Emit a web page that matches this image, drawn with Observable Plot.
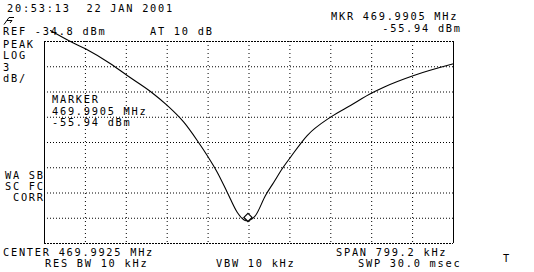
<!DOCTYPE html>
<html>
<head>
<meta charset="utf-8">
<script src="https://cdn.jsdelivr.net/npm/d3@7"></script>
<script src="https://cdn.jsdelivr.net/npm/@observablehq/plot@0.6"></script>
<style>
  html, body { margin: 0; padding: 0; background: #fff; }
  #chart svg { display: block; }
</style>
</head>
<body>
<div id="chart"></div>
<script>
// ---- instrument settings ----
const centerMHz = 469.9925;
const spanMHz = 0.7992;
const refDbm = -34.8;
const dbPerDiv = 3;
const xDivs = 10;
const yDivs = 8;
const markerMHz = 469.9905;
const markerDbm = -55.94;

// ---- trace ----
const freqMHz = [469.6046, 469.6437, 469.6730, 469.7219, 469.7545, 469.8000, 469.8327, 469.8651,
  469.8913, 469.9108, 469.9304, 469.9499, 469.9694, 469.9817, 469.9866, 469.9905, 469.9945,
  470.0052, 470.0247, 470.0410, 470.0574, 470.0736, 470.1062, 470.1517, 470.1908, 470.2332,
  470.2559, 470.3145, 470.3921];
const levelDbm = [-33.49, -34.8, -35.67, -37.45, -38.84, -40.74, -42.40, -44.39,
  -46.56, -48.34, -50.33, -52.70, -55.08, -55.95, -56.10, -56.08, -56.02,
  -55.47, -53.10, -51.52, -49.92, -48.55, -45.97, -43.79, -42.40, -40.90,
  -40.23, -38.84, -37.45];

// ---- annotation texts ----
const labelTexts = [
  "20:53:13  22 JAN 2001",
  "REF -34.8 dBm", "AT 10 dB",
  "MKR 469.9905 MHz", "-55.94 dBm",
  "PEAK", "LOG", "3", "dB/",
  "MARKER", "469.9905 MHz", "-55.94 dBm",
  "WA SB", "SC FC", "CORR",
  "CENTER 469.9925 MHz", "SPAN 799.2 kHz",
  "RES BW 10 kHz", "VBW 10 kHz", "SWP 30.0 msec", "T"
];

const startMHz = centerMHz - spanMHz / 2;
const stopMHz = centerMHz + spanMHz / 2;
const bottomDbm = refDbm - dbPerDiv * yDivs;
const xLines = d3.range(xDivs + 1).map(i => startMHz + i * spanMHz / xDivs);
const yLines = d3.range(yDivs + 1).map(i => refDbm - i * dbPerDiv);
const trace = freqMHz.map((f, i) => ({f, v: levelDbm[i]}));

const W = 534, H = 272;
const chart = Plot.plot({
  width: W,
  height: H,
  marginLeft: 44,
  marginRight: 81,
  marginTop: 41,
  marginBottom: 29,
  x: {domain: [startMHz, stopMHz], axis: null},
  y: {domain: [bottomDbm, refDbm], axis: null},
  style: {background: "#fff", overflow: "visible"},
  marks: [
    Plot.ruleX(xLines.slice(1, -1), {stroke: "#000", strokeWidth: 1, strokeDasharray: "1,3"}),
    Plot.ruleY(yLines.slice(1, -1), {stroke: "#000", strokeWidth: 1, strokeDasharray: "1,2"}),
    Plot.ruleY([yLines[0], yLines[yLines.length - 1]], {stroke: "#000", strokeWidth: 1, strokeDasharray: "2,1"}),
    Plot.ruleX([xLines[0], xLines[xLines.length - 1]], {stroke: "#000", strokeWidth: 1}),
    Plot.line(trace, {x: "f", y: "v", stroke: "#000", strokeWidth: 1.1, curve: "monotone-x", clip: false}),
    Plot.dot([{f: markerMHz, v: markerDbm}], {x: "f", y: "v", symbol: "diamond2", r: 3.7,
      stroke: "#000", strokeWidth: 1.2, fill: "#fff", dy: -2})
  ]
});
document.getElementById("chart").appendChild(chart);

// text placement (pixel layout of the instrument screen)
const layout = [
  [7, 12, "start"],
  [3, 34.5, "start"], [150, 34.5, "start"],
  [331, 20, "start"], [460, 31.5, "end"],
  [3, 47.5, "start"], [3, 59, "start"], [3, 70.5, "start"], [3, 81.5, "start"],
  [52, 103, "start"], [52, 114.5, "start"], [52, 126, "start"],
  [43, 179, "end"], [43, 190, "end"], [43, 201, "end"],
  [3, 255.5, "start"], [336, 255.5, "start"],
  [45, 267, "start"], [216, 267, "start"], [358, 267, "start"], [503, 262, "start"]
];
const svg = d3.select(chart);
const g = svg.append("g")
  .attr("font-family", "'DejaVu Sans Mono', 'Liberation Mono', monospace")
  .attr("font-size", 10.3)
  .attr("fill", "#000");
labelTexts.forEach((t, i) => {
  const [x, y, anchor] = layout[i];
  g.append("text")
    .attr("x", x).attr("y", y)
    .attr("text-anchor", anchor)
    .attr("letter-spacing", "1.75px")
    .attr("dx", anchor === "end" ? 1.75 : 0)
    .style("white-space", "pre")
    .text(t);
});
// small hp logo
svg.append("path")
  .attr("d", "M4,24.5 L9,17.5 M7,20.5 L12,20.5 L10,23 M9,17.5 L14,17.5")
  .attr("stroke", "#000").attr("fill", "none").attr("stroke-width", 1);
</script>
</body>
</html>
